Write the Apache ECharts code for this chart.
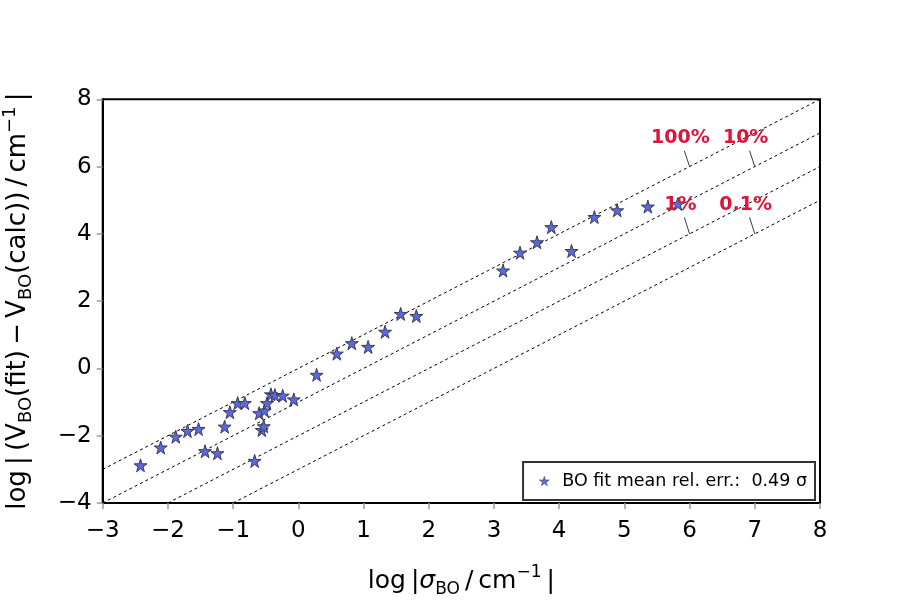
<!DOCTYPE html>
<html>
<head>
<meta charset="utf-8">
<script src="https://cdn.jsdelivr.net/npm/echarts@6/dist/echarts.min.js"></script>
<style>
  html, body { margin: 0; padding: 0; background: #fff; }
  #chart { width: 900px; height: 600px; }
</style>
</head>
<body>
<div id="chart"></div>
<script>
// 数据点：log|sigma_BO| 与 log|V_BO(fit) - V_BO(calc)|
var logSigma = [-2.42, -2.11, -1.88, -1.70, -1.53, -1.43, -1.24, -1.13, -1.05, -0.93,
                -0.82, -0.67, -0.60, -0.56, -0.53, -0.52, -0.48, -0.42, -0.36, -0.24,
                -0.07, 0.28, 0.59, 0.82, 1.07, 1.33, 1.57, 1.81, 3.14, 3.40,
                3.66, 3.88, 4.19, 4.54, 4.89, 5.36, 5.82];
var logErr = [-2.88, -2.35, -2.03, -1.86, -1.80, -2.46, -2.52, -1.73, -1.30, -1.03,
              -1.03, -2.75, -1.33, -1.83, -1.72, -1.25, -1.03, -0.77, -0.79, -0.81,
              -0.92, -0.19, 0.44, 0.75, 0.64, 1.09, 1.62, 1.56, 2.91, 3.44,
              3.75, 4.20, 3.49, 4.50, 4.70, 4.81, 4.89];

// 参考线 y = x + offset
var lineOffsets = [0, -1, -2, -3];
var lineNames = ['100%', '10%', '1%', '0.1%'];
// 标注文字位置与引线
var labelX = [5.86, 6.86, 5.86, 6.86];
var labelY = [6.85, 6.85, 4.86, 4.86];
var leaderStart = [[5.92, 6.47], [6.92, 6.47], [5.92, 4.49], [6.92, 4.49]];
var leaderEnd = [[6.0, 6.0], [7.0, 6.0], [6.0, 4.0], [7.0, 4.0]];

var xMin = -3, xMax = 8, yMin = -4, yMax = 8;
var starPath = 'path://M50,0 L61,35 L98,35 L68,57 L79,91 L50,70 L21,91 L32,57 L2,35 L39,35 Z';
var FONT = 'DejaVu Sans';

function minusFmt(v) { return String(v).replace('-', '\u2212'); }

var series = [];

// 虚线参考线
lineOffsets.forEach(function (off) {
    var x0 = Math.max(xMin, yMin - off);
    var x1 = Math.min(xMax, yMax - off);
    series.push({
        type: 'line',
        data: [[x0, x0 + off], [x1, x1 + off]],
        symbol: 'none',
        silent: true,
        lineStyle: { color: '#000', width: 1, type: [3, 3] },
        z: 1
    });
});

// 引线
for (var i = 0; i < leaderStart.length; i++) {
    series.push({
        type: 'line',
        data: [leaderStart[i], leaderEnd[i]],
        symbol: 'none',
        silent: true,
        lineStyle: { color: '#2f3f5f', width: 1 },
        z: 2
    });
}

// 数据散点
var points = logSigma.map(function (x, i) { return [x, logErr[i]]; });
series.push({
    name: 'BO fit mean rel. err.:  0.49 \u03c3',
    type: 'scatter',
    data: points,
    symbol: starPath,
    symbolSize: 13,
    itemStyle: { color: '#5b68e0', borderColor: '#3a3a50', borderWidth: 1, opacity: 1 },
    z: 3
});

// 百分比标注
series.push({
    type: 'scatter',
    data: labelX.map(function (x, i) { return { name: lineNames[i], value: [x, labelY[i]] }; }),
    symbolSize: 0,
    silent: true,
    itemStyle: { opacity: 1 },
    label: {
        show: true,
        position: 'inside',
        formatter: '{b}',
        color: '#dc143c',
        fontWeight: 'bold',
        fontSize: 19,
        fontFamily: FONT
    },
    z: 4
});

var chart = echarts.init(document.getElementById('chart'));
var option = {
    animation: false,
    backgroundColor: '#fff',
    grid: {
        left: 102.7, right: 80, top: 99.3, bottom: 97,
        containLabel: false, outerBoundsMode: 'none',
        show: true, borderColor: '#000', borderWidth: 2, backgroundColor: 'transparent'
    },
    legend: {
        right: 85, bottom: 100,
        data: ['BO fit mean rel. err.:  0.49 \u03c3'],
        icon: starPath,
        itemWidth: 10, itemHeight: 10,
        itemStyle: { borderWidth: 0.5 },
        padding: [10, 8, 10, 16],
        borderColor: '#333', borderWidth: 2, borderRadius: 0,
        backgroundColor: '#fff',
        textStyle: { fontSize: 17.5, fontFamily: FONT, color: '#000', padding: [0, 0, 0, 8] }
    },
    xAxis: {
        type: 'value', min: xMin, max: xMax, interval: 1,
        splitLine: { show: false },
        axisLine: { onZero: false, lineStyle: { color: '#000', width: 2 } },
        axisTick: { length: 6, lineStyle: { color: '#999', width: 1.5 } },
        axisLabel: { fontSize: 23, color: '#000', fontFamily: FONT, margin: 17, formatter: minusFmt },
        name: '{n|log\u2009|}{s|\u03c3}{sub|BO}{n|\u2009/\u2009cm}{sup|\u22121}{n|\u2009|}',
        nameLocation: 'middle', nameGap: 61,
        nameTextStyle: {
            fontFamily: FONT, fontSize: 25, color: '#000',
            rich: {
                n: { fontSize: 25, fontFamily: FONT, lineHeight: 34 },
                s: { fontSize: 25, fontFamily: FONT, fontStyle: 'italic', lineHeight: 34 },
                sub: { fontSize: 17, fontFamily: FONT, verticalAlign: 'bottom', lineHeight: 14 },
                sup: { fontSize: 17, fontFamily: FONT, verticalAlign: 'top', lineHeight: 14 }
            }
        }
    },
    yAxis: {
        type: 'value', min: yMin, max: yMax, interval: 2,
        splitLine: { show: false },
        axisLine: { onZero: false, lineStyle: { color: '#000', width: 2 } },
        axisTick: { length: 6, lineStyle: { color: '#999', width: 1.5 } },
        axisLabel: { fontSize: 23, color: '#000', fontFamily: FONT, margin: 11, formatter: minusFmt },
        name: '{n|log\u2009|\u2009(V}{sub|BO}{n|(fit)\u2009\u2212\u2009V}{sub|BO}{n|(calc))\u2009/\u2009cm}{sup|\u22121}{n|\u2009|}',
        nameLocation: 'middle', nameGap: 67, nameRotate: 90,
        nameTextStyle: {
            fontFamily: FONT, fontSize: 26, color: '#000',
            rich: {
                n: { fontSize: 26, fontFamily: FONT, lineHeight: 34 },
                sub: { fontSize: 18, fontFamily: FONT, verticalAlign: 'bottom', lineHeight: 14 },
                sup: { fontSize: 18, fontFamily: FONT, verticalAlign: 'top', lineHeight: 14 }
            }
        }
    },
    series: series
};
chart.setOption(option);
</script>
</body>
</html>
